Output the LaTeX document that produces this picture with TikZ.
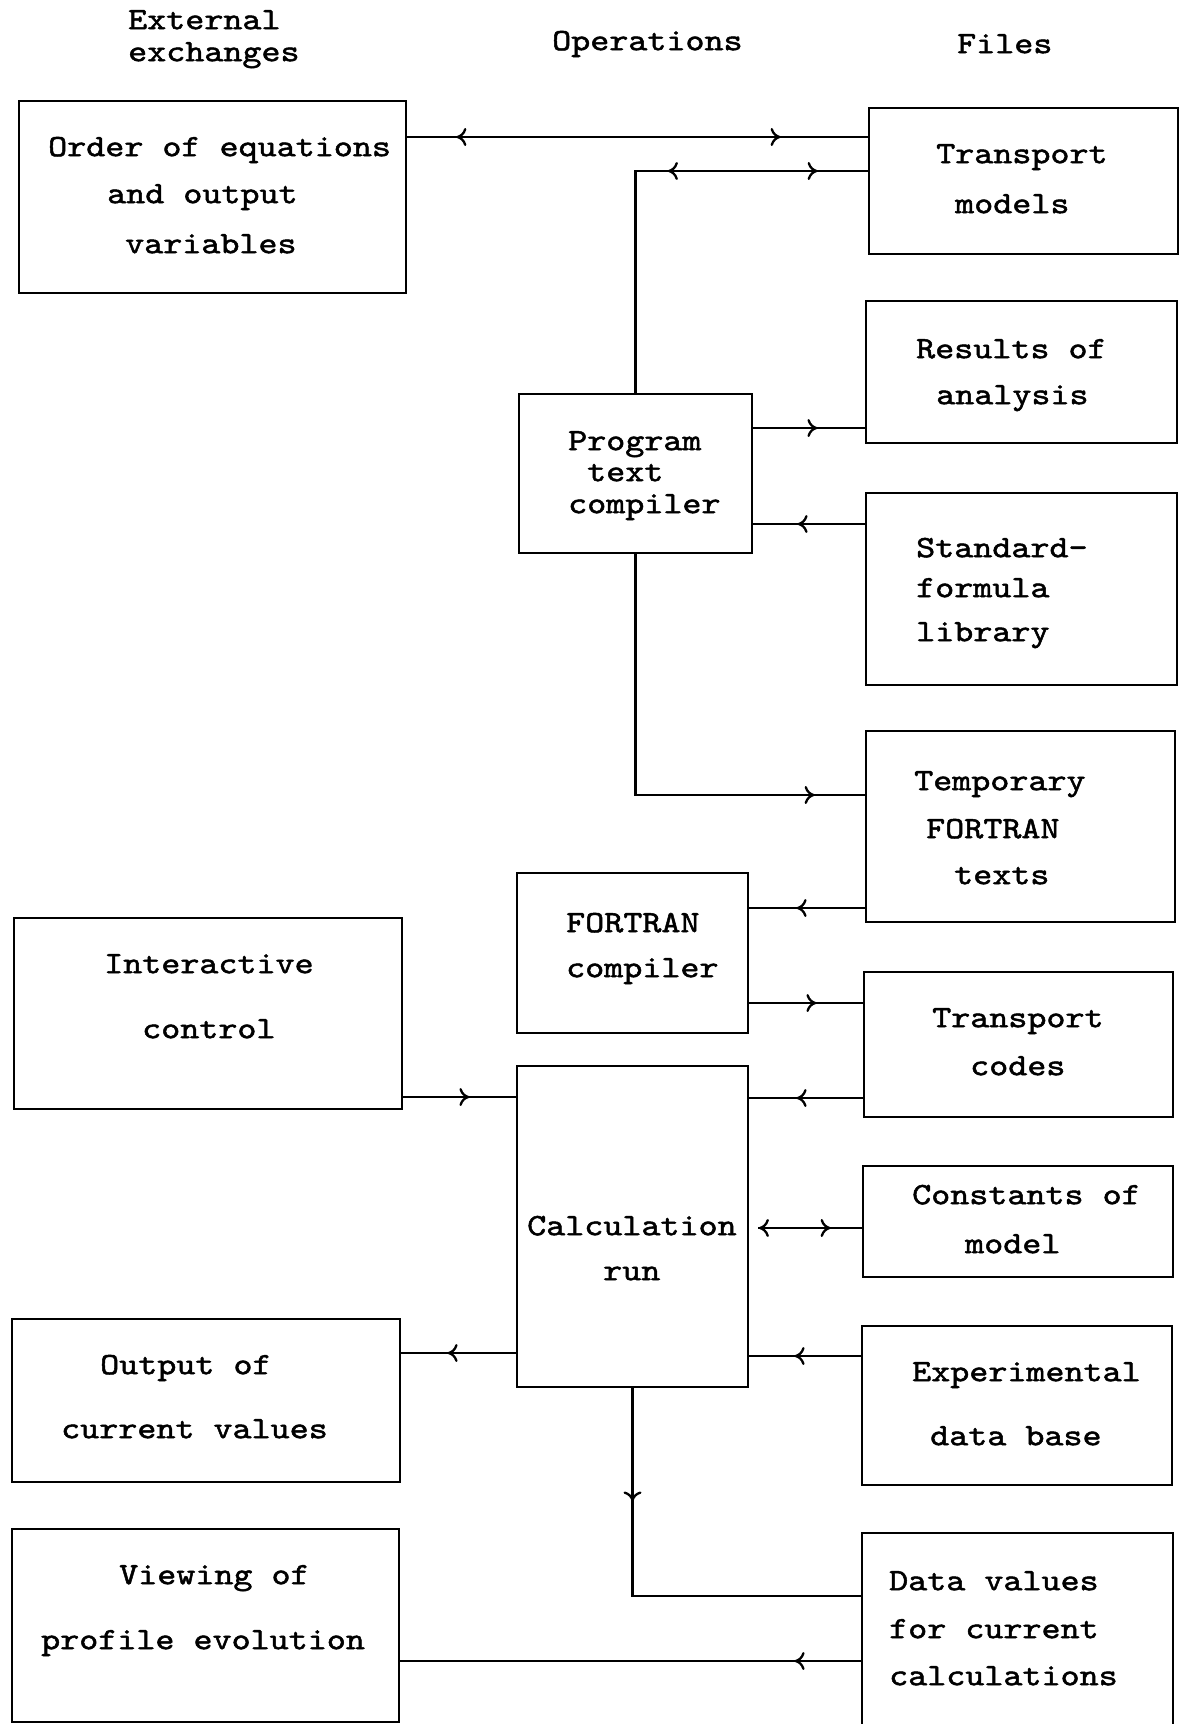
\documentclass[tikz,border=0pt]{standalone}
\usepackage{fontspec}
\newfontfamily\cour[FakeStretch=1.17,FakeBold=1.6]{lmmono10-regular.otf}
\usetikzlibrary{arrows.meta,decorations.markings,calc}
\begin{document}
\begin{tikzpicture}[x=1pt,y=-1pt,
  >={Computer Modern Rightarrow[length=10pt,width=18pt]},
  box/.style={draw, line width=2.8pt, inner sep=0pt},
  txt/.style={font=\cour\fontsize{31pt}{32pt}\selectfont, inner sep=0pt, anchor=mid west, yshift=-5pt},
  conn/.style={draw, line width=2.3pt},
  arr/.style={postaction={decorate,decoration={markings,#1}}}]
\fill[white] (0,0) rectangle (1180,1724);
\useasboundingbox (0,0) rectangle (1180,1724);

% headings
\node[txt] (h1a) at (128,22) {External};
\node[txt] (h1b) at (128,54) {exchanges};
\node[txt] (h2) at (552,43) {Operations};
\node[txt] (h3) at (957,46) {Files};

% boxes
\node[box, minimum width=387, minimum height=192] (order) at (212.5,197) {};
\node[box, minimum width=309, minimum height=146] (trm) at (1023.5,181) {};
\node[box, minimum width=311, minimum height=142] (res) at (1021.5,372) {};
\node[box, minimum width=311, minimum height=192] (std) at (1021.5,589) {};
\node[box, minimum width=309, minimum height=191] (tmp) at (1020.5,826.5) {};
\node[box, minimum width=309, minimum height=145] (trc) at (1018.5,1044.5) {};
\node[box, minimum width=310, minimum height=111] (con) at (1018,1221.5) {};
\node[box, minimum width=310, minimum height=159] (exp) at (1017,1405.5) {};
\node[box, minimum width=311, minimum height=207] (dat) at (1017.5,1636.5) {};
\node[box, minimum width=233, minimum height=159] (prg) at (635.5,473.5) {};
\node[box, minimum width=231, minimum height=160] (ftn) at (632.5,953) {};
\node[box, minimum width=231, minimum height=321] (calc) at (632.5,1226.5) {};
\node[box, minimum width=388, minimum height=191] (int) at (208,1013.5) {};
\node[box, minimum width=388, minimum height=163] (out) at (206,1400.5) {};
\node[box, minimum width=387, minimum height=193] (view) at (205.5,1625.5) {};

% texts
\node[txt] (t-order1) at (48,149) {Order of equations};
\node[txt] (t-order2) at (107,196) {and output};
\node[txt] (t-order3) at (125,246) {variables};
\node[txt] (t-trm1) at (936,156) {Transport};
\node[txt] (t-trm2) at (955,206) {models};
\node[txt] (t-res1) at (916,351) {Results of};
\node[txt] (t-res2) at (936,397) {analysis};
\node[txt] (t-std1) at (916,550) {Standard-};
\node[txt] (t-std2) at (916,590) {formula};
\node[txt] (t-std3) at (916,634) {library};
\node[txt] (t-tmp1) at (914,783) {Temporary};
\node[txt] (t-tmp2) at (926,831) {FORTRAN};
\node[txt] (t-tmp3) at (954,877) {texts};
\node[txt] (t-trc1) at (932,1020) {Transport};
\node[txt] (t-trc2) at (970,1068) {codes};
\node[txt] (t-con1) at (912,1197) {Constants of};
\node[txt] (t-con2) at (965,1246) {model};
\node[txt] (t-exp1) at (912,1374) {Experimental};
\node[txt] (t-exp2) at (930,1438) {data base};
\node[txt] (t-dat1) at (889,1583) {Data values};
\node[txt] (t-dat2) at (889,1631) {for current};
\node[txt] (t-dat3) at (889,1678) {calculations};
\node[txt] (t-prg1) at (568,443) {Program};
\node[txt] (t-prg2) at (587,474) {text};
\node[txt] (t-prg3) at (568,506) {compiler};
\node[txt] (t-ftn1) at (566,925) {FORTRAN};
\node[txt] (t-ftn2) at (566,970) {compiler};
\node[txt] (t-calc1) at (527,1228) {Calculation};
\node[txt] (t-calc2) at (603,1273) {run};
\node[txt] (t-int1) at (104,966) {Interactive};
\node[txt] (t-int2) at (142,1031) {control};
\node[txt] (t-out1) at (100,1367) {Output of};
\node[txt] (t-out2) at (61,1431) {current values};
\node[txt] (t-view1) at (119,1577) {Viewing of};
\node[txt] (t-view2) at (41,1642) {profile evolution};

% connectors
\path[conn, arr={mark=at position 49pt with {\arrowreversed{>}}, mark=at position -87pt with {\arrow{>}}}]
  (order.east |- 0,137) -- (trm.west |- 0,137);
\path[conn, arr={mark=at position 254pt with {\arrowreversed{>}}, mark=at position -50pt with {\arrow{>}}}]
  (prg.north) |- (trm.west |- 0,171);
\path[conn, arr={mark=at position 64pt with {\arrow{>}}}]
  (prg.east |- 0,428) -- (res.west |- 0,428);
\path[conn, arr={mark=at position 67pt with {\arrow{>}}}]
  (std.west |- 0,524) -- (prg.east |- 0,524);
\path[conn, arr={mark=at position -50pt with {\arrow{>}}}]
  (prg.south) |- (tmp.west |- 0,795);
\path[conn, arr={mark=at position 68pt with {\arrow{>}}}]
  (tmp.west |- 0,908) -- (ftn.east |- 0,908);
\path[conn, arr={mark=at position 67pt with {\arrow{>}}}]
  (ftn.east |- 0,1003) -- (trc.west |- 0,1003);
\path[conn, arr={mark=at position 66pt with {\arrow{>}}}]
  (trc.west |- 0,1098) -- (calc.east |- 0,1098);
\path[conn, arr={mark=at position 66pt with {\arrow{>}}}]
  (int.east |- 0,1097) -- (calc.west |- 0,1097);
\path[conn, arr={mark=at position 0.5pt with {\arrowreversed{>}}, mark=at position -31pt with {\arrow{>}}}]
  ($(calc.east |- 0,1228)+(9,0)$) -- (con.west |- 0,1228);
\path[conn, arr={mark=at position 68pt with {\arrow{>}}}]
  (calc.west |- 0,1353) -- (out.east |- 0,1353);
\path[conn, arr={mark=at position 66pt with {\arrow{>}}}]
  (exp.west |- 0,1356) -- (calc.east |- 0,1356);
\path[conn, arr={mark=at position 113pt with {\arrow{>}}}]
  (calc.south) |- (dat.west |- 0,1596);
\path[conn, arr={mark=at position 66pt with {\arrow{>}}}]
  (dat.west |- 0,1661) -- (view.east |- 0,1661);
\end{tikzpicture}
\end{document}
